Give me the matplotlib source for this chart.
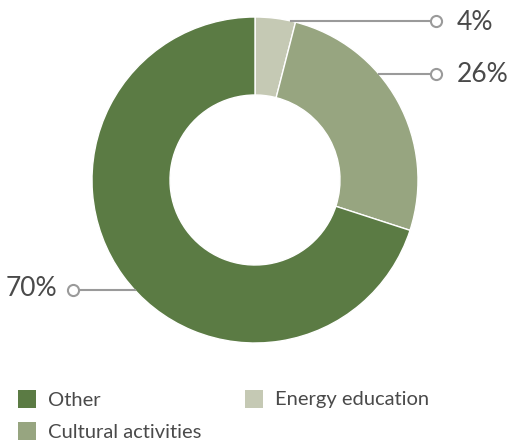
import numpy as np
import matplotlib
matplotlib.use("Agg")
import matplotlib.pyplot as plt
from matplotlib.patches import Rectangle

categories = ["Energy education", "Cultural activities", "Other"]
values = [4, 26, 70]
labels = ["4%", "26%", "70%"]
colors = ["#c5c9b4", "#97a580", "#5b7b44"]

legend_order = ["Other", "Energy education", "Cultural activities"]

W, H = 509, 446
fig = plt.figure(figsize=(W / 100, H / 100), dpi=100)
ax = fig.add_axes([0, 0, 1, 1])

cx, cy, R = 255, 180, 163
ax.pie(values, colors=colors, startangle=-90, counterclock=True,
       center=(cx, cy), radius=R, frame=True,
       wedgeprops=dict(width=R - 85, edgecolor="white", linewidth=1))
ax.set_xlim(0, W)
ax.set_ylim(H, 0)
ax.set_aspect("equal")
ax.axis("off")

font = "Lato"
txt_col = "#4a4a4a"
line_col = "#9a9a9a"

label_layout = [(21, "right"), (74, "right"), (290, "left")]
for lab, (ly, side) in zip(labels, label_layout):
    dx = np.sqrt(R**2 - (ly - cy) ** 2)
    if side == "right":
        x0 = cx + dx
        x1 = 432
        ax.plot([x0, x1], [ly, ly], color=line_col, lw=1.5, zorder=3)
        ax.plot([x1 + 4], [ly], marker="o", ms=8, mfc="white", mec=line_col, mew=1.5, zorder=4)
        ax.text(457, ly + 1, lab, fontsize=19, family=font,
                color=txt_col, va="center", ha="left")
    else:
        x0 = cx - dx
        x1 = 78
        ax.plot([x1, x0], [ly, ly], color=line_col, lw=1.5, zorder=3)
        ax.plot([x1 - 5], [ly], marker="o", ms=8, mfc="white", mec=line_col, mew=1.5, zorder=4)
        ax.text(57, ly - 2, lab, fontsize=19, family=font,
                color=txt_col, va="center", ha="right")

leg_pos = {"Other": (18, 390), "Energy education": (245, 390), "Cultural activities": (18, 422)}
for name in legend_order:
    x, y = leg_pos[name]
    col = colors[categories.index(name)]
    ax.add_patch(Rectangle((x, y), 18, 18, facecolor=col, edgecolor="none"))
    ax.text(x + 30, y + 10, name, fontsize=14.5, family=font,
            color=txt_col, va="center", ha="left")

fig.savefig("out.png", dpi=100)
